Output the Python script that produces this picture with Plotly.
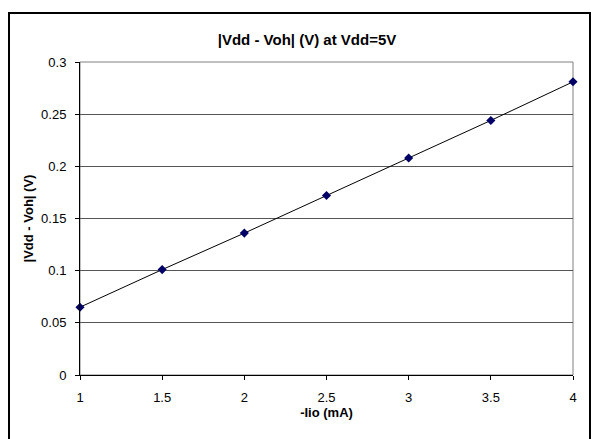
import plotly.graph_objects as go

# Output-high drop measurements at Vdd = 5 V
current_ma = [1, 1.5, 2, 2.5, 3, 3.5, 4]
drop_v = [0.065, 0.101, 0.136, 0.172, 0.208, 0.244, 0.281]
x_ticks = [1, 1.5, 2, 2.5, 3, 3.5, 4]
y_ticks = [0, 0.05, 0.1, 0.15, 0.2, 0.25, 0.3]

W, H = 591, 439
L, R, T, B = 80, 18, 62, 64
pw, ph = W - L - R, H - T - B


def px_x(v):
    return (v - L) / pw


def px_y(v):
    return (H - B - v) / ph


fig = go.Figure(
    go.Scatter(
        x=current_ma,
        y=drop_v,
        mode="lines+markers",
        line=dict(color="black", width=1),
        marker=dict(symbol="diamond", size=7, color="#000066",
                    line=dict(color="#000066", width=0)),
        cliponaxis=False,
        showlegend=False,
    )
)

family = "Liberation Sans, Arial, sans-serif"
font = dict(family=family, size=13, color="black")

fig.update_layout(
    width=W,
    height=H,
    margin=dict(l=L, r=R, t=T, b=B),
    paper_bgcolor="white",
    plot_bgcolor="white",
    font=font,
    title=dict(
        text="<b>|Vdd - Voh| (V) at Vdd=5V</b>",
        x=307 / W, xref="container", xanchor="center",
        y=1 - 40 / H, yref="container", yanchor="middle",
        font=dict(size=15, family=family, color="black"),
    ),
    xaxis=dict(
        range=[1, 4],
        tickvals=x_ticks,
        ticktext=[f"{v:g}" for v in x_ticks],
        showgrid=False,
        zeroline=False,
        showline=True, linecolor="black", linewidth=1,
        ticks="outside", ticklen=4, tickcolor="black",
        ticklabelstandoff=6,
        title=dict(text="<b>-Iio (mA)</b>", standoff=0, font=dict(size=13)),
    ),
    yaxis=dict(
        range=[0, 0.3],
        tickvals=y_ticks,
        ticktext=[f"{v:g}" for v in y_ticks],
        showgrid=True, gridcolor="#555555", gridwidth=1,
        zeroline=False,
        showline=True, linecolor="black", linewidth=1,
        ticks="outside", ticklen=4, tickcolor="black",
        ticklabelstandoff=6,
        title=dict(text="<b>|Vdd - Voh| (V)</b>", standoff=4, font=dict(size=13)),
    ),
    shapes=[
        # plot-area frame
        dict(type="rect", xref="paper", yref="paper", x0=0, x1=1, y0=0, y1=1,
             line=dict(color="#808080", width=1), layer="below"),
        # outer chart border
        dict(type="rect", xref="paper", yref="paper",
             x0=px_x(9), x1=px_x(590), y0=px_y(446), y1=px_y(13),
             line=dict(color="black", width=2)),
    ],
)

fig.write_html("out.html")
